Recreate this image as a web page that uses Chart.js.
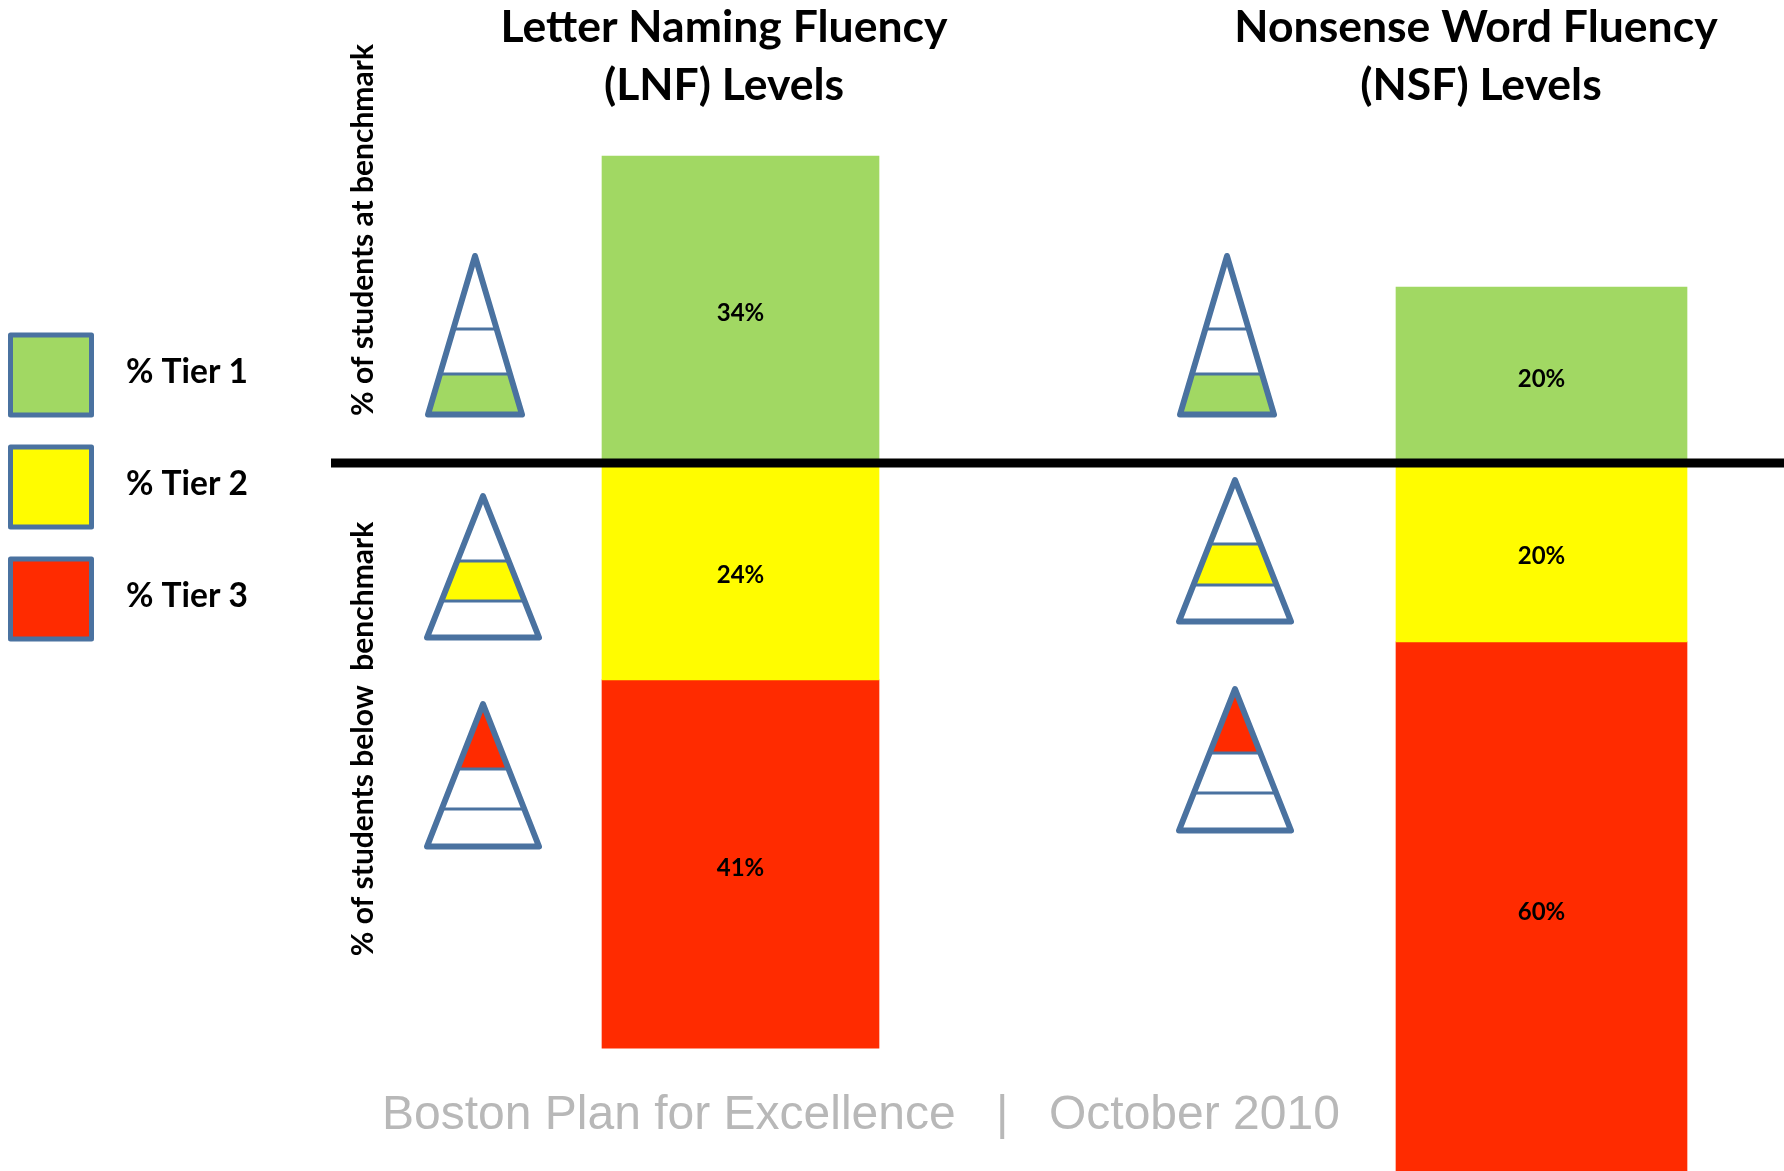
<!DOCTYPE html>
<html>
<head>
<meta charset="utf-8">
<title>LNF and NSF levels</title>
<script src="https://cdn.jsdelivr.net/npm/chart.js@4/dist/chart.umd.min.js"></script>
<style>
  html, body { margin: 0; padding: 0; background: #fff; overflow: hidden; }
  canvas { display: block; }
</style>
</head>
<body>
<canvas id="myChart" width="1784" height="1171"></canvas>
<script>
const tests = ['LNF', 'NSF'];
const tierNames = ['% Tier 1', '% Tier 2', '% Tier 3'];

// bar heights, tier 1 above the benchmark, the others below
const tier1 = [34, 19.5];
const tier2 = [-24, -19.8];
const tier3 = [-40.8, -59];

// the percentages printed on the bars
const tier1Labels = ['34%', '20%'];
const tier2Labels = ['24%', '20%'];
const tier3Labels = ['41%', '60%'];

const green = '#a1d863';
const yellow = '#fffc00';
const red = '#ff2b00';
const blue = '#4a72a0';
const tierColors = [green, yellow, red];

const boldFont = 'Lato, sans-serif';

function tierDataset(values, color, labels, testIndex, thickness) {
    return {
        label: tests[testIndex],
        data: tests.map((t, i) => (i === testIndex ? values[i] : null)),
        printed: labels,
        backgroundColor: color,
        borderWidth: 0,
        barThickness: thickness,
        stack: 'tiers',
        clip: false
    };
}

function pyramid(ctx, p) {
    const band = [[p.line2, p.base], [p.line1, p.line2], [p.top, p.line1]][p.tier];
    const left = (y) => p.x - (y - p.top) / (p.base - p.top) * p.half;
    const right = (y) => p.x + (y - p.top) / (p.base - p.top) * p.half;

    ctx.fillStyle = tierColors[p.tier];
    ctx.beginPath();
    ctx.moveTo(left(band[0]), band[0]);
    ctx.lineTo(right(band[0]), band[0]);
    ctx.lineTo(right(band[1]), band[1]);
    ctx.lineTo(left(band[1]), band[1]);
    ctx.closePath();
    ctx.fill();

    ctx.strokeStyle = blue;
    ctx.lineWidth = 3;
    [p.line1, p.line2].forEach((y) => {
        ctx.beginPath();
        ctx.moveTo(left(y), y);
        ctx.lineTo(right(y), y);
        ctx.stroke();
    });

    ctx.lineWidth = 6;
    ctx.lineJoin = 'round';
    ctx.beginPath();
    ctx.moveTo(p.x, p.top);
    ctx.lineTo(p.x + p.half, p.base);
    ctx.lineTo(p.x - p.half, p.base);
    ctx.closePath();
    ctx.stroke();
}

const pyramids = [
    { x: 475, top: 256, base: 414.5, half: 47, line1: 329, line2: 374, tier: 0 },
    { x: 483, top: 496, base: 637.5, half: 56, line1: 561, line2: 601, tier: 1 },
    { x: 483, top: 704, base: 846.5, half: 56, line1: 769, line2: 809, tier: 2 },
    { x: 1227, top: 256, base: 414.5, half: 47, line1: 329, line2: 374, tier: 0 },
    { x: 1235, top: 480, base: 621.5, half: 56, line1: 544, line2: 585, tier: 1 },
    { x: 1235, top: 689, base: 830.5, half: 56, line1: 753, line2: 793, tier: 2 }
];

const decorations = {
    id: 'decorations',
    afterDatasetsDraw(chart) {
        const ctx = chart.ctx;
        ctx.save();
        ctx.textAlign = 'center';
        ctx.textBaseline = 'middle';

        // percentages in the middle of each bar
        ctx.fillStyle = '#000';
        ctx.font = 'bold 24px ' + boldFont;
        chart.data.datasets.forEach((ds, d) => {
            chart.getDatasetMeta(d).data.forEach((bar, i) => {
                if (ds.data[i] === null) return;
                ctx.fillText(ds.printed[i], bar.x, (bar.y + bar.base) / 2 + 4);
            });
        });

        // benchmark line
        ctx.fillStyle = '#000';
        ctx.fillRect(331, 458.5, 1453, 9);

        // panel titles
        ctx.textBaseline = 'alphabetic';
        ctx.font = 'bold 44.5px ' + boldFont;
        ctx.fillText('Letter Naming Fluency', 724, 42);
        ctx.fillText('(LNF) Levels', 724, 100);
        ctx.fillText('Nonsense Word Fluency', 1476, 42);
        ctx.fillText('(NSF) Levels', 1481, 100);

        // rotated axis captions
        ctx.font = 'bold 30px ' + boldFont;
        [['% of students at benchmark', 230], ['% of students below  benchmark', 739]].forEach(([text, y]) => {
            ctx.save();
            ctx.translate(373, y);
            ctx.rotate(-Math.PI / 2);
            ctx.fillText(text, 0, 0);
            ctx.restore();
        });

        // legend
        ctx.textAlign = 'left';
        ctx.textBaseline = 'middle';
        tierNames.forEach((name, i) => {
            const y = 335 + i * 112;
            ctx.fillStyle = tierColors[i];
            ctx.strokeStyle = blue;
            ctx.lineWidth = 5;
            ctx.lineJoin = 'round';
            ctx.fillRect(10.5, y, 81, 80);
            ctx.strokeRect(10.5, y, 81, 80);
            ctx.fillStyle = '#000';
            ctx.font = 'bold 33.5px ' + boldFont;
            ctx.fillText(name, 126, y + 37);
        });

        pyramids.forEach((p) => pyramid(ctx, p));

        // footer
        ctx.fillStyle = '#b8b8b8';
        ctx.font = '48px "Liberation Sans", sans-serif';
        ctx.textAlign = 'left';
        ctx.textBaseline = 'alphabetic';
        ctx.fillText('Boston Plan for Excellence', 382, 1129);
        ctx.fillText('|', 996, 1129);
        ctx.fillText('October 2010', 1049, 1129);
        ctx.restore();
    }
};

new Chart(document.getElementById('myChart'), {
    type: 'bar',
    data: {
        labels: tests,
        datasets: [
            tierDataset(tier1, green, tier1Labels, 0, 277),
            tierDataset(tier2, yellow, tier2Labels, 0, 277),
            tierDataset(tier3, red, tier3Labels, 0, 277),
            tierDataset(tier1, green, tier1Labels, 1, 291),
            tierDataset(tier2, yellow, tier2Labels, 1, 291),
            tierDataset(tier3, red, tier3Labels, 1, 291)
        ]
    },
    options: {
        responsive: false,
        animation: false,
        layout: { padding: { left: 740.5, right: 242.5, top: 0, bottom: 0 } },
        scales: {
            x: { display: false, stacked: true, offset: false },
            y: { display: false, stacked: true, min: -78.4, max: 51.3 }
        },
        plugins: { legend: { display: false }, tooltip: { enabled: false }, title: { display: false } }
    },
    plugins: [decorations]
});
</script>
</body>
</html>
